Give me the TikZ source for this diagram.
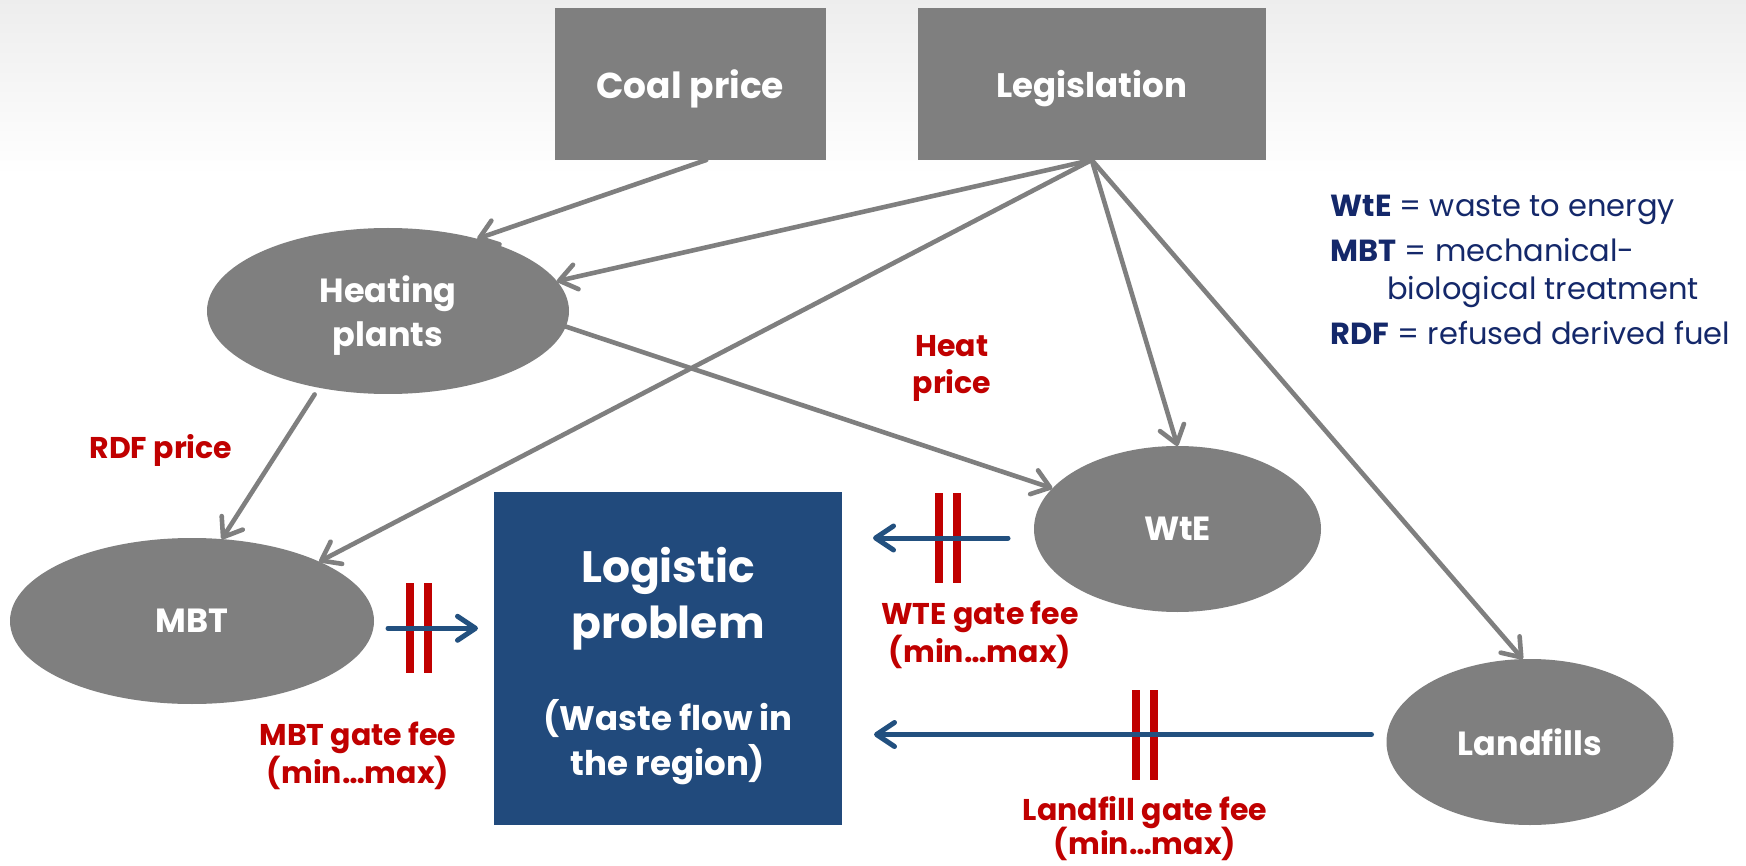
\documentclass[tikz,border=0pt]{standalone}
\usepackage{fontspec}
\setmainfont{Poppins}
\usetikzlibrary{arrows.meta,calc,shapes.geometric}
\definecolor{flowgray}{HTML}{7F7F7F}
\definecolor{boxblue}{HTML}{214A7C}
\definecolor{flowblue}{HTML}{22507F}
\definecolor{feered}{HTML}{C00000}
\definecolor{legendnavy}{HTML}{14286A}
\begin{document}
\begin{tikzpicture}[x=1pt,y=-1pt,
  every node/.style={inner sep=0pt, outer sep=0pt},
  factorbox/.style={rectangle, fill=flowgray, text=white, minimum height=152pt,
    text depth=0pt, font=\bfseries\fontsize{34}{44}\selectfont},
  agent/.style={ellipse, fill=flowgray, text=white, align=center,
    minimum height=166pt, text depth=0pt, font=\bfseries\fontsize{33.5}{44}\selectfont},
  problembox/.style={rectangle, fill=boxblue, minimum width=348pt, minimum height=333pt},
  problemtitle/.style={text=white, anchor=base, font=\bfseries\fontsize{44}{56}\selectfont},
  problemsub/.style={text=white, anchor=base, font=\bfseries\fontsize{34}{45}\selectfont},
  influence/.style={draw=flowgray, line width=4.6pt, line cap=round,
    -{Straight Barb[round,length=17pt,width=25pt]}},
  flow/.style={draw=flowblue, line width=5pt, line cap=round,
    -{Straight Barb[round,length=18pt,width=24pt]}},
  gatebar/.style={rectangle, fill=feered, minimum width=8.5pt, minimum height=90pt},
  feelabel/.style={text=feered, anchor=base, font=\bfseries\fontsize{30}{36}\selectfont},
  legendline/.style={text=legendnavy, anchor=base west, font=\fontsize{30.5}{36}\selectfont}
]
\useasboundingbox (0,0) rectangle (1746,866);
% page background with a soft grey band along the top
\fill[white] (0,0) rectangle (1746,866);
\shade[top color=gray!14, bottom color=white] (0,0) rectangle (1746,175);

% external factors
\node[factorbox, minimum width=271.5pt, font=\bfseries\fontsize{36}{44}\selectfont] (coal) at (690.25,84) {Coal price};
\node[factorbox, minimum width=348.5pt] (legis) at (1091.75,84) {Legislation};

% actors
\node[agent, minimum width=362pt] (heat) at (388,311) {Heating\\plants};
\node[agent, minimum width=364pt] (mbt) at (192,621) {MBT};
\node[agent, minimum width=287pt] (wte) at (1177.5,529) {WtE};
\node[agent, minimum width=287pt] (land) at (1530,742) {Landfills};

% central problem
\node[problembox] (logistic) at (668,658.5) {};
\node[problemtitle] (logt1) at (668,582) {Logistic};
\node[problemtitle] (logt2) at (668,638) {problem};
\node[problemsub] (logs1) at (668,730) {(Waste flow in};
\node[problemsub] (logs2) at (668,775) {the region)};

% influences
\draw[influence] ([xshift=16pt]coal.south) -- (heat.39);
\draw[influence] (legis.south) -- (heat.10);
\draw[influence] (legis.south) -- (mbt.25);
\draw[influence] (legis.south) -- (wte.north);
\draw[influence] (legis.south) -- (land.95);
\draw[influence] (heat.-5) -- (wte.162);
\draw[influence, shorten <=8pt] (heat.228) -- (mbt.70);

% gates on the waste flows
\coordinate (mbtgate) at (419,628.3);
\coordinate (wtegate) at (948,538);
\coordinate (landgate) at (1145,734.5);
\foreach \g in {mbtgate,wtegate,landgate}{
  \node[gatebar] (\g-a) at ([xshift=-9pt]\g) {};
  \node[gatebar] (\g-b) at ([xshift=9pt]\g) {};
}

% waste flows into the logistic problem
\draw[flow, shorten <=14pt, shorten >=16pt] (mbt.east |- mbtgate) -- (logistic.west |- mbtgate);
\draw[flow, shorten <=26pt, shorten >=31pt] (wte.west |- wtegate) -- (logistic.east |- wtegate);
\draw[flow, shorten <=15pt, shorten >=32pt] (land.west |- landgate) -- (logistic.east |- landgate);

% prices and fees
\node[feelabel] (rdf) at (161,458) {RDF price};
\node[feelabel] (heatp1) at (952,357) {Heat};
\node[feelabel] (heatp2) at (952,394) {price};
\node[feelabel] (wtefee1) at (980,624) {WTE gate fee};
\node[feelabel] (wtefee2) at (980,662) {(min…max)};
\node[feelabel] (mbtfee1) at (358,745) {MBT gate fee};
\node[feelabel] (mbtfee2) at (358,783) {(min…max)};
\node[feelabel] (landfee1) at (1145,820) {Landfill gate fee};
\node[feelabel] (landfee2) at (1145,854) {(min…max)};

% abbreviations
\node[legendline] (leg1) at (1330.7,216.7) {\textbf{WtE} = waste to energy};
\node[legendline] (leg2) at (1330.7,261.7) {\textbf{MBT} = mechanical-};
\node[legendline] (leg3) at (1387.3,300) {biological treatment};
\node[legendline] (leg4) at (1330.7,345) {\textbf{RDF} = refused derived fuel};
\end{tikzpicture}
\end{document}
